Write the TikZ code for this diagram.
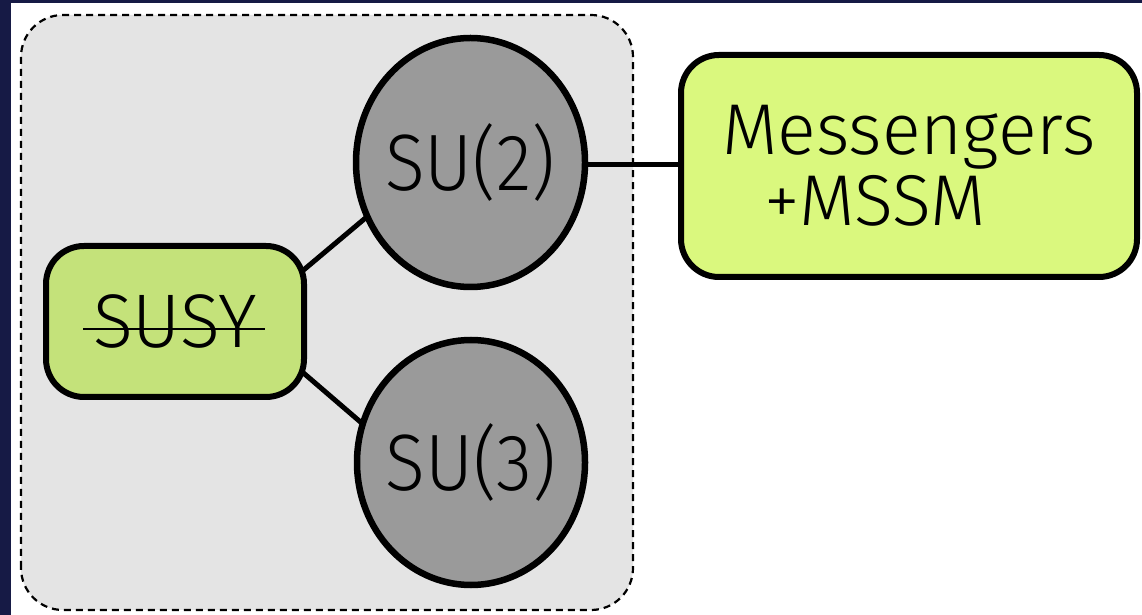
\documentclass[tikz,border=0pt]{standalone}
\usepackage{fontspec}
\newfontfamily\handfont{Fira Sans}[UprightFont={* Light}]
\usetikzlibrary{shapes.geometric,backgrounds}
\pgfdeclarelayer{panel}
\pgfsetlayers{panel,background,main}
\definecolor{navy}{HTML}{161A45}
\definecolor{panelgray}{HTML}{E4E4E4}
\definecolor{discgray}{HTML}{9A9A9A}
\definecolor{susygreen}{HTML}{C4E27A}
\definecolor{msggreen}{HTML}{DAF87E}
\newcommand{\fixedw}[2]{\makebox[0pt]{\scalebox{#1}[1]{#2}}}
\tikzset{
  groupbox/.style={draw=black, line width=2.2pt, dash pattern=on 7pt off 5pt,
    fill=panelgray, rounded corners=42pt},
  greenbox/.style={draw=black, line width=6pt, rounded corners=38pt,
    inner sep=0pt, font=\handfont},
  gauge/.style={ellipse, draw=black, line width=6.5pt, fill=discgray,
    inner sep=0pt, font=\handfont\fontsize{80}{80}\selectfont},
  link/.style={draw=black, line width=5pt},
}
\begin{document}
\begin{tikzpicture}[x=1pt,y=1pt]
  \begin{pgfonlayer}{panel}
    % page frame
    \fill[white] (0,0) rectangle (1142,615);
    \fill[navy] (0,0) rectangle (11,615);
    \fill[navy] (0,611.5) rectangle (1142,615);
    % dashed group panel
    \path[groupbox] (21,5) rectangle (633,600);
  \end{pgfonlayer}
  \useasboundingbox (0,0) rectangle (1142,615);

  % nodes
  \node[greenbox, fill=susygreen, minimum width=258pt, minimum height=151pt,
        font=\handfont\fontsize{76}{76}\selectfont] (susy) at (175,293.5)
        {\raisebox{-4pt}{\fixedw{0.97}{SUSY}}};
  \node[gauge, minimum width=229pt, minimum height=249pt] (su2) at (470.5,452.5)
        {\raisebox{-7pt}{\fixedw{0.92}{SU(2)}}};
  \node[gauge, minimum width=228pt, minimum height=245pt] (su3) at (471,152.5)
        {\raisebox{-7pt}{\fixedw{0.92}{SU(3)}}};
  \node[greenbox, fill=msggreen, minimum width=456pt, minimum height=222pt,
        align=center, font=\handfont\fontsize{72}{75}\selectfont] (msg) at (909,449)
        {\raisebox{-4pt}{Messengers}\\+MSSM\hspace*{68pt}};

  % strike-through on SUSY
  \draw[line width=2pt] ([shift={(-92,-7.5)}]susy.center) -- ([shift={(90,-7.5)}]susy.center);

  % connectors
  \begin{pgfonlayer}{background}
    \path[link] ([shift={(75,6.5)}]susy.center) -- ([shift={(-70.5,-26.5)}]su2.center);
    \path[link] ([shift={(75,-5.5)}]susy.center) -- ([shift={(-71,6.5)}]su3.center);
    \path[link] ([yshift=-2.5pt]su2.center) -- ([yshift=1pt]msg.center);
  \end{pgfonlayer}
\end{tikzpicture}
\end{document}
